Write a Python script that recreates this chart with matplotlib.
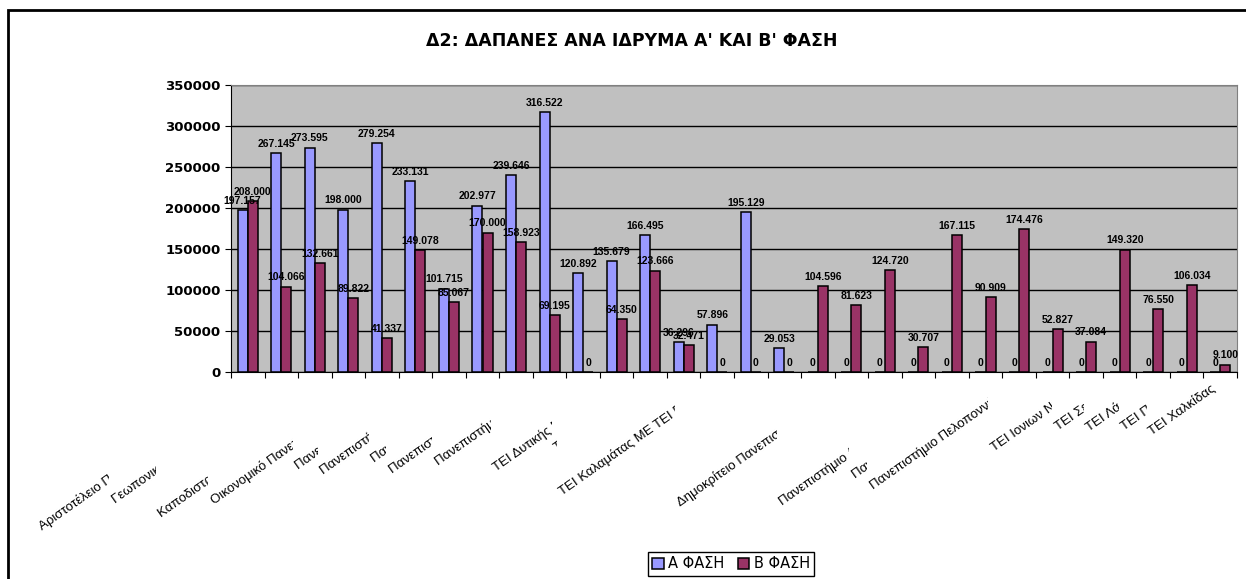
import matplotlib
matplotlib.use("Agg")
import matplotlib.pyplot as plt
import matplotlib.patches as mpatches
from matplotlib.transforms import Bbox, offset_copy
import numpy as np

# ιδρύματα (30 κατηγορίες)
institutions = [
    "Αριστοτέλειο Πανεπιστήμιο Θεσσαλονίκης",
    "Γεωπονικό Πανεπιστήμιο Αθηνών",
    "Εθνικό Μετσόβιο Πολυτεχνείο",
    "Καποδιστριακό Πανεπιστήμιο Αθηνών",
    "Οικονομικό Πανεπιστήμιο Αθηνών",
    "Πανεπιστήμιο Πειραιώς",
    "Πανεπιστήμιο Θεσσαλίας",
    "Πανεπιστήμιο Κρήτης",
    "Πανεπιστήμιο Ιωαννίνων",
    "Πανεπιστήμιο Πατρών",
    "ΤΕΙ Αθήνας",
    "ΤΕΙ Δυτικής Μακεδονίας",
    "ΤΕΙ Θεσσαλονίκης",
    "ΤΕΙ Πειραιά",
    "ΤΕΙ Καλαμάτας ΜΕ ΤΕΙ Πάτρας",
    "ΤΕΙ Κρήτης",
    "ΤΕΙ Ηπείρου",
    "Χαροκόπειο Πανεπιστήμιο",
    "Δημοκρίτειο Πανεπιστήμιο Θράκης",
    "ΤΕΙ Καβάλας",
    "ΤΕΙ Χίου",
    "Πανεπιστήμιο Δυτικής Μακεδονίας",
    "Πανεπιστήμιο Μακεδονίας",
    "Πανεπιστήμιο Πελοποννήσου",
    "ΤΕΙ Λαμίας",
    "ΤΕΙ Ιονιων Νήσων",
    "ΤΕΙ Σερρών",
    "ΤΕΙ Λάρισας",
    "ΤΕΙ Πατρών",
    "ΤΕΙ Χαλκίδας",
]

phase_a = [197157, 267145, 273595, 198000, 279254, 233131, 101715, 202977,
           239646, 316522, 120892, 135679, 166495, 36296, 57896, 195129,
           29053, 0, 0, 0, 0, 0, 0, 0, 0, 0, 0, 0, 0, 0]
phase_b = [208000, 104066, 132661, 89822, 41337, 149078, 85067, 170000,
           158923, 69195, 0, 64350, 123666, 32471, 0, 0,
           0, 104596, 81623, 124720, 30707, 167115, 90909, 174476,
           52827, 37084, 149320, 76550, 106034, 9100]

W, H = 1246, 579
fig = plt.figure(figsize=(W / 100, H / 100), dpi=100)
ax = fig.add_axes([231 / W, 1 - 372 / H, (1237 - 231) / W, (372 - 85) / H])

x = np.arange(len(institutions))
width = 0.3
rects_a = ax.bar(x - width / 2, phase_a, width, label="Α ΦΑΣΗ",
                 color="#9999FF", edgecolor="black", linewidth=1.1, zorder=3)
rects_b = ax.bar(x + width / 2, phase_b, width, label="Β ΦΑΣΗ",
                 color="#993366", edgecolor="black", linewidth=1.1, zorder=3)

ax.set_facecolor("#C0C0C0")
ax.set_xlim(-0.5, len(institutions) - 0.5)
ax.set_ylim(0, 350000)
ax.set_yticks(np.arange(0, 350001, 50000))
ax.yaxis.grid(True, color="black", linewidth=1)
ax.set_axisbelow(True)
for lab in ax.get_yticklabels():
    lab.set_fontweight("bold")
ax.tick_params(axis="y", labelsize=9.5, length=4, direction="out")

# tick marks στα όρια των κατηγοριών
ax.set_xticks(np.arange(len(institutions) + 1) - 0.5)
ax.set_xticklabels([])
ax.tick_params(axis="x", length=4, direction="out")

for s in ["top", "right"]:
    ax.spines[s].set_color("#808080")
ax.spines["left"].set_color("black")
ax.spines["bottom"].set_color("black")


def autolabel(rects):
    for rect in rects:
        h = rect.get_height()
        ax.annotate(f"{int(h):,}".replace(",", "."),
                    xy=(rect.get_x() + rect.get_width() / 2, h),
                    xytext=(0, 3), textcoords="offset points",
                    ha="center", va="bottom", fontsize=7.5,
                    fontweight="bold", family="Liberation Sans", zorder=4)


autolabel(rects_a)
autolabel(rects_b)

fig.text(632 / W, 1 - 41 / H, "Δ2: ΔΑΠΑΝΕΣ ΑΝΑ ΙΔΡΥΜΑ Α' ΚΑΙ Β' ΦΑΣΗ",
         ha="center", va="center", fontsize=12.5, fontweight="bold")

# ετικέτες κατηγοριών: περιστραμμένες, κάθε επόμενη κρύβει την προηγούμενη
label_tr = offset_copy(ax.get_xaxis_transform(), fig=fig, x=-4, y=-18, units="dots")
cat_texts = []
for i, name in enumerate(institutions):
    t = fig.text(i, 0, name, transform=label_tr, rotation=35,
                 rotation_mode="anchor", ha="right", va="baseline",
                 fontsize=9.5, family="Liberation Sans")
    cat_texts.append(t)

fig.canvas.draw()
renderer = fig.canvas.get_renderer()
starts = [t.get_window_extent(renderer).x0 for t in cat_texts]
for i, t in enumerate(cat_texts[:-1]):
    cut = min(starts[i + 1:])
    t.set_clip_box(Bbox([[0, 0], [cut, H]]))
    t.set_clip_on(True)

leg = fig.legend(loc="center", bbox_to_anchor=(731 / W, 1 - 564 / H), ncol=2,
                 fontsize=10.5, frameon=True, fancybox=False, edgecolor="black",
                 framealpha=1, handlelength=0.8, handleheight=0.8,
                 handletextpad=0.3, columnspacing=0.9, borderpad=0.3,
                 borderaxespad=0)
leg.get_frame().set_linewidth(1)

frame = mpatches.Rectangle((8 / W, -0.1), 1.2, 1 - 10 / H + 0.1,
                           transform=fig.transFigure, fill=False,
                           edgecolor="black", linewidth=2)
fig.add_artist(frame)

fig.savefig("out.png", dpi=100)
